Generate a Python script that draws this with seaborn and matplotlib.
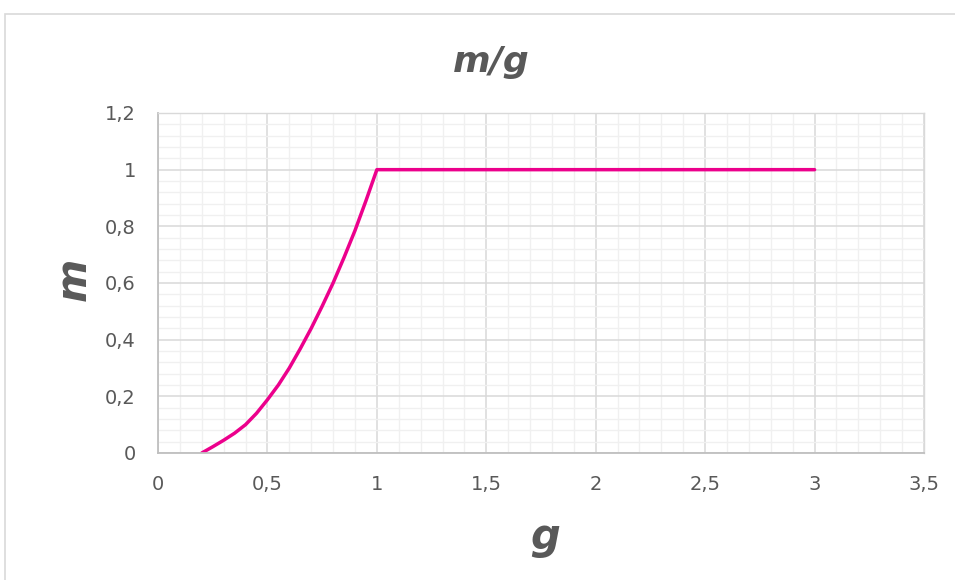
import matplotlib
matplotlib.use("Agg")
import matplotlib.pyplot as plt
import seaborn as sns
import pandas as pd
from matplotlib.patches import Rectangle
from matplotlib.ticker import MultipleLocator, FuncFormatter

g_values = [0.2, 0.25, 0.3, 0.35, 0.4, 0.45, 0.5, 0.55, 0.6, 0.65, 0.7, 0.75, 0.8, 0.85, 0.9, 0.95, 1.0, 3.0]
m_values = [0.0, 0.022, 0.045, 0.07, 0.10, 0.14, 0.188, 0.24, 0.30, 0.368, 0.44, 0.518, 0.60, 0.69, 0.785, 0.89, 1.0, 1.0]

title = "m/g"
xlabel = "g"
ylabel = "m"

sns.set_style("white")
plt.rcParams['font.family'] = ['DejaVu Sans']

df = pd.DataFrame({"g": g_values, "m": m_values})

fig = plt.figure(figsize=(9.55, 5.8), dpi=100)
ax = fig.add_axes([158/955, 1-453/580, (924-158)/955, (453-113)/580])

sns.lineplot(data=df, x="g", y="m", ax=ax, sort=False, color="#EC008C", linewidth=2.5,
             estimator=None, solid_joinstyle="round")

ax.set_xlim(0, 3.5)
ax.set_ylim(0, 1.2)
ax.xaxis.set_major_locator(MultipleLocator(0.5))
ax.xaxis.set_minor_locator(MultipleLocator(0.1))
ax.yaxis.set_major_locator(MultipleLocator(0.2))
ax.yaxis.set_minor_locator(MultipleLocator(0.04))

def fmt(v, pos):
    s = f"{v:.1f}"
    if s.endswith(".0"):
        s = s[:-2]
    return s.replace(".", ",")

ax.xaxis.set_major_formatter(FuncFormatter(fmt))
ax.yaxis.set_major_formatter(FuncFormatter(fmt))

ax.grid(which="major", color="#D9D9D9", linewidth=1.1)
ax.grid(which="minor", color="#F0F0F0", linewidth=1.0)
ax.set_axisbelow(True)
for side in ["top", "right"]:
    ax.spines[side].set_color("#D9D9D9")
    ax.spines[side].set_linewidth(1.0)
for side in ["left", "bottom"]:
    ax.spines[side].set_color("#BFBFBF")
    ax.spines[side].set_linewidth(1.3)

ax.tick_params(axis="both", which="both", length=0, labelsize=14, labelcolor="#595959")
ax.tick_params(axis="x", pad=16)
ax.tick_params(axis="y", pad=16)
ax.set_xlabel("")
ax.set_ylabel("")

fig.text(491/955, 1-62/580, title, ha="center", va="center", fontsize=26,
         fontweight="bold", fontstyle="italic", color="#595959")
fig.text(545/955, 1-537/580, xlabel, ha="center", va="center", fontsize=30,
         fontweight="bold", fontstyle="italic", color="#595959")
fig.text(74/955, 1-279/580, ylabel, ha="center", va="center", fontsize=30,
         fontweight="bold", fontstyle="italic", color="#595959", rotation=90)

fig.patches.append(Rectangle((5/955, -0.05), 1.1, 1-14/580 + 0.05, transform=fig.transFigure,
                             fill=False, edgecolor="#D9D9D9", linewidth=1.2))

fig.savefig("out.png", dpi=100)
